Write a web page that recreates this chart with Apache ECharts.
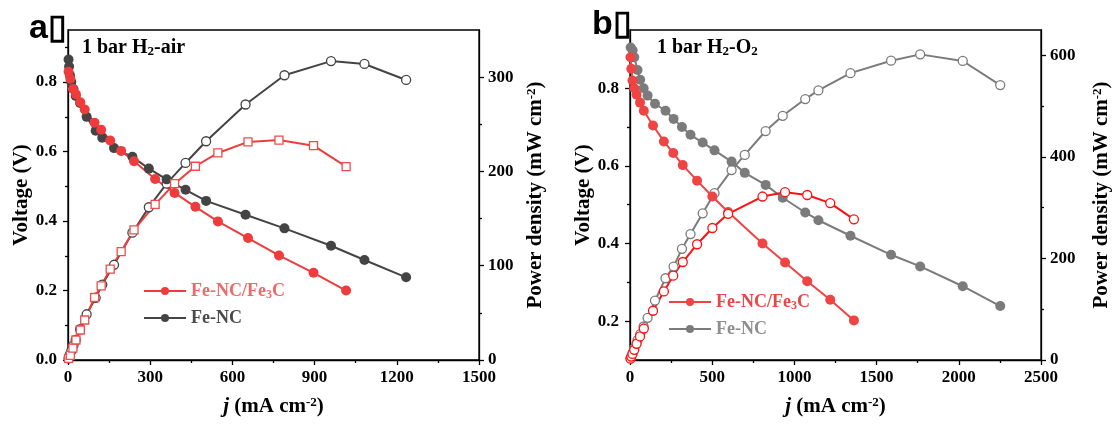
<!DOCTYPE html>
<html>
<head>
<meta charset="utf-8">
<script src="https://cdn.jsdelivr.net/npm/echarts@6/dist/echarts.min.js"></script>
<style>
  html, body { margin: 0; padding: 0; background: #fff; }
  #chart { width: 1113px; height: 425px; }
</style>
</head>
<body>
<div id="chart"></div>
<script>
// (a) 1 bar H2-air polarization and power density curves
const airJ_FeC = [2, 8.5, 18, 29, 45, 61, 97, 121, 154, 194, 241, 318, 389, 465, 547, 657, 770, 896, 1015];
const airV_FeC = [0.83, 0.81, 0.78, 0.765, 0.742, 0.721, 0.683, 0.663, 0.632, 0.602, 0.572, 0.521, 0.481, 0.441, 0.399, 0.351, 0.301, 0.251, 0.200];
const airP_FeC = [1.7, 5, 12.7, 21.2, 31.8, 42.4, 66.3, 78.7, 96.4, 115, 138, 165, 187, 205.5, 219.6, 231.3, 233.3, 227.3, 205];

const airJ_Fe = [2, 4, 7, 12, 20, 28, 44, 68, 101, 125, 168, 235, 295, 360, 429, 504, 648, 790, 960, 1082, 1234];
const airV_Fe = [0.865, 0.845, 0.82, 0.80, 0.78, 0.76, 0.74, 0.70, 0.66, 0.64, 0.61, 0.585, 0.551, 0.52, 0.49, 0.458, 0.418, 0.379, 0.329, 0.288, 0.238];
const airP_Fe = [1.7, 3.4, 5.7, 9.6, 15.6, 21.3, 32.6, 48.5, 66, 80, 101, 135, 162, 187, 209, 232, 271, 302, 317, 314, 297];

// (b) 1 bar H2-O2 polarization and power density curves
const o2J_FeC = [3, 8, 15, 26, 40, 61, 84, 140, 206, 263, 321, 408, 501, 597, 806, 943, 1078, 1218, 1362];
const o2V_FeC = [0.88, 0.85, 0.82, 0.80, 0.783, 0.763, 0.742, 0.704, 0.663, 0.633, 0.602, 0.562, 0.521, 0.481, 0.40, 0.351, 0.303, 0.255, 0.202];
const o2P_FeC = [2.6, 6.8, 12, 20, 32, 46.5, 62, 97, 135, 166, 193, 228, 260, 288, 322, 330.5, 325, 309, 277];

const o2J_Fe = [4, 16, 26, 46, 62, 83, 107, 152, 216, 265, 316, 368, 442, 514, 618, 698, 825, 929, 1066, 1146, 1341, 1588, 1765, 2024, 2252];
const o2V_Fe = [0.905, 0.898, 0.880, 0.847, 0.822, 0.80, 0.781, 0.760, 0.742, 0.721, 0.700, 0.680, 0.660, 0.640, 0.611, 0.582, 0.551, 0.518, 0.480, 0.460, 0.420, 0.371, 0.341, 0.290, 0.239];
const o2P_Fe = [3.6, 14, 23, 39, 51, 66, 83, 117, 161, 184, 219, 248, 289, 328.5, 374, 404, 451, 481, 514, 531, 565, 589.5, 602, 589, 541.6];

// tick values
const airVTicks = [0, 0.2, 0.4, 0.6, 0.8];
const airVMinor = [0.1, 0.3, 0.5, 0.7, 0.9];
const airPTicks = [0, 100, 200, 300];
const airPMinor = [50, 150, 250];
const o2VTicks = [0.2, 0.4, 0.6, 0.8];
const o2VMinor = [0.1, 0.3, 0.5, 0.7, 0.9];
const o2PTicks = [0, 200, 400, 600];
const o2PMinor = [100, 300, 500];

const SERIF = '"Liberation Serif", "Times New Roman", serif';
const zip = (a, b) => a.map((x, i) => [x, b[i]]);

const labelStyle = { fontFamily: SERIF, fontWeight: 'bold', fontSize: 17, color: '#000' };
const nameStyle = {
  fontFamily: SERIF, fontWeight: 'bold', fontSize: 21, color: '#000',
  rich: {
    i: { fontFamily: SERIF, fontWeight: 'bold', fontStyle: 'italic', fontSize: 21, color: '#000' },
    sup: { fontFamily: SERIF, fontWeight: 'bold', fontSize: 13, color: '#000', verticalAlign: 'top' },
    n: { fontFamily: SERIF, fontWeight: 'bold', fontSize: 21, color: '#000' }
  }
};
const axisLine = { show: true, lineStyle: { color: '#000', width: 1.3 } };

function xAxis(grid, max, interval) {
  return {
    type: 'value', gridIndex: grid, min: 0, max: max, interval: interval,
    name: '{i|j}{n| (mA cm}{sup|-2}{n|)}', nameLocation: 'middle', nameGap: 36,
    nameTextStyle: nameStyle,
    axisLine: axisLine,
    axisTick: { show: true, length: 5, lineStyle: { color: '#000', width: 1.3 } },
    minorTick: { show: true, splitNumber: 2, length: 3, lineStyle: { color: '#000', width: 1.3 } },
    axisLabel: Object.assign({ margin: 9, formatter: v => String(v) }, labelStyle),
    splitLine: { show: false }
  };
}

function vAxis(grid, min, ticks) {
  return {
    type: 'value', gridIndex: grid, position: 'left', min: min, max: 0.95,
    name: 'Voltage (V)', nameLocation: 'middle', nameGap: 36, nameRotate: 90,
    nameTextStyle: nameStyle,
    axisLine: axisLine,
    axisTick: { show: true, length: 5, customValues: ticks, lineStyle: { color: '#000', width: 1.3 } },
    axisLabel: Object.assign({ margin: 11, customValues: ticks, formatter: v => v.toFixed(1) }, labelStyle),
    splitLine: { show: false }
  };
}

function pAxis(grid, max, ticks, gap) {
  return {
    type: 'value', gridIndex: grid, position: 'right', min: 0, max: max,
    name: '{n|Power density (mW cm}{sup|-2}{n|)}', nameLocation: 'middle', nameGap: gap, nameRotate: 90,
    nameTextStyle: nameStyle,
    axisLine: axisLine,
    axisTick: { show: true, length: 5, customValues: ticks, lineStyle: { color: '#000', width: 1.3 } },
    axisLabel: Object.assign({ margin: 9, customValues: ticks, formatter: v => String(v) }, labelStyle),
    splitLine: { show: false }
  };
}

function minorAxis(grid, pos, min, max, values) {
  return {
    type: 'value', gridIndex: grid, position: pos, min: min, max: max,
    axisLine: { show: false },
    axisTick: { show: true, length: 3, customValues: values, lineStyle: { color: '#000', width: 1.3 } },
    axisLabel: { show: false },
    splitLine: { show: false }
  };
}

function filled(name, xi, yi, j, v, color, size) {
  return {
    name: name, type: 'line', xAxisIndex: xi, yAxisIndex: yi, data: zip(j, v),
    symbol: 'circle', symbolSize: size, showSymbol: true,
    lineStyle: { color: color, width: 2 },
    itemStyle: { color: color, borderColor: color, borderWidth: 0 },
    emphasis: { disabled: true }, animation: false, z: 3
  };
}

function hollow(name, xi, yi, j, p, lineColor, edgeColor, symbol, size) {
  return {
    name: name, type: 'line', xAxisIndex: xi, yAxisIndex: yi, data: zip(j, p),
    symbol: symbol, symbolSize: size, showSymbol: true,
    lineStyle: { color: lineColor, width: 2 },
    itemStyle: { color: '#fff', borderColor: edgeColor, borderWidth: 1.3 },
    emphasis: { disabled: true }, animation: false, z: 3
  };
}

const DARK = '#444444';
const RED_A = '#ee3c3c';
const SQ_EDGE = '#f04c4c';
const GRAY = '#7b7b7b';
const RED_B = '#ee4444';
const RED_P = '#ff1010';

const legendRich = (redTxt, otherTxt) => ({
  r: { fontFamily: SERIF, fontWeight: 'bold', fontSize: 18, color: redTxt },
  rs: { fontFamily: SERIF, fontWeight: 'bold', fontSize: 12, color: redTxt, verticalAlign: 'bottom', padding: [8, 0, 0, 0] },
  g: { fontFamily: SERIF, fontWeight: 'bold', fontSize: 18, color: otherTxt }
});
const legendFmt = name => name.indexOf('Fe3C') >= 0 ? '{r|Fe-NC/Fe}{rs|3}{r|C}' : '{g|Fe-NC}';

const option = {
  backgroundColor: '#fff',
  animation: false,
  grid: [
    { left: 68, top: 30, width: 411, height: 330, show: true, borderColor: '#000', borderWidth: 1.3, backgroundColor: 'transparent' },
    { left: 630, top: 30, width: 411, height: 330, show: true, borderColor: '#000', borderWidth: 1.3, backgroundColor: 'transparent' }
  ],
  xAxis: [xAxis(0, 1500, 300), xAxis(1, 2500, 500)],
  yAxis: [
    vAxis(0, 0, airVTicks),
    pAxis(0, 350, airPTicks, 46),
    minorAxis(0, 'left', 0, 0.95, airVMinor),
    minorAxis(0, 'right', 0, 350, airPMinor),
    vAxis(1, 0.1, o2VTicks),
    pAxis(1, 650, o2PTicks, 50),
    minorAxis(1, 'left', 0.1, 0.95, o2VMinor),
    minorAxis(1, 'right', 0, 650, o2PMinor)
  ],
  legend: [
    {
      data: ['Fe-NC/Fe3C', 'Fe-NC'], orient: 'vertical', left: 138, top: 277,
      itemWidth: 42, itemHeight: 10, itemGap: 8,
      formatter: legendFmt, textStyle: { rich: legendRich('#f26868', '#4a4a4a') },
      selectedMode: false
    },
    {
      data: ['Fe-NC/Fe3C\u200b', 'Fe-NC\u200b'], orient: 'vertical', left: 663, top: 288,
      itemWidth: 42, itemHeight: 10, itemGap: 8,
      formatter: legendFmt, textStyle: { rich: legendRich('#ec4545', '#8e8e8e') },
      selectedMode: false
    }
  ],
  series: [
    // panel a
    hollow('Fe-NC power', 0, 1, airJ_Fe, airP_Fe, DARK, DARK, 'circle', 9),
    filled('Fe-NC', 0, 0, airJ_Fe, airV_Fe, DARK, 10),
    hollow('Fe-NC/Fe3C power', 0, 1, airJ_FeC, airP_FeC, RED_A, SQ_EDGE, 'rect', 8),
    filled('Fe-NC/Fe3C', 0, 0, airJ_FeC, airV_FeC, RED_A, 10),
    // panel b
    hollow('Fe-NC power\u200b', 1, 5, o2J_Fe, o2P_Fe, GRAY, GRAY, 'circle', 9),
    filled('Fe-NC\u200b', 1, 4, o2J_Fe, o2V_Fe, GRAY, 10),
    filled('Fe-NC/Fe3C\u200b', 1, 4, o2J_FeC, o2V_FeC, RED_B, 10),
    hollow('Fe-NC/Fe3C power\u200b', 1, 5, o2J_FeC, o2P_FeC, RED_P, RED_P, 'circle', 9)
  ],
  graphic: [
    { type: 'text', left: 29, top: 12, style: { text: 'a\u25AF', font: 'bold 34px "Liberation Sans", Arial, sans-serif', fill: '#000' } },
    { type: 'text', left: 592, top: 8, style: { text: 'b\u25AF', font: 'bold 34px "Liberation Sans", Arial, sans-serif', fill: '#000' } },
    {
      type: 'text', left: 82, top: 38,
      style: {
        text: '{a|1 bar H}{s|2}{a|-air}',
        rich: {
          a: { fontFamily: SERIF, fontWeight: 'bold', fontSize: 20, fill: '#000' },
          s: { fontFamily: SERIF, fontWeight: 'bold', fontSize: 13, fill: '#000', verticalAlign: 'bottom', padding: [8, 0, 0, 0] }
        }
      }
    },
    {
      type: 'text', left: 657, top: 38,
      style: {
        text: '{a|1 bar H}{s|2}{a|-O}{s|2}',
        rich: {
          a: { fontFamily: SERIF, fontWeight: 'bold', fontSize: 20, fill: '#000' },
          s: { fontFamily: SERIF, fontWeight: 'bold', fontSize: 13, fill: '#000', verticalAlign: 'bottom', padding: [8, 0, 0, 0] }
        }
      }
    }
  ]
};

const chart = echarts.init(document.getElementById('chart'), null, { renderer: 'canvas' });
chart.setOption(option);
</script>
</body>
</html>
